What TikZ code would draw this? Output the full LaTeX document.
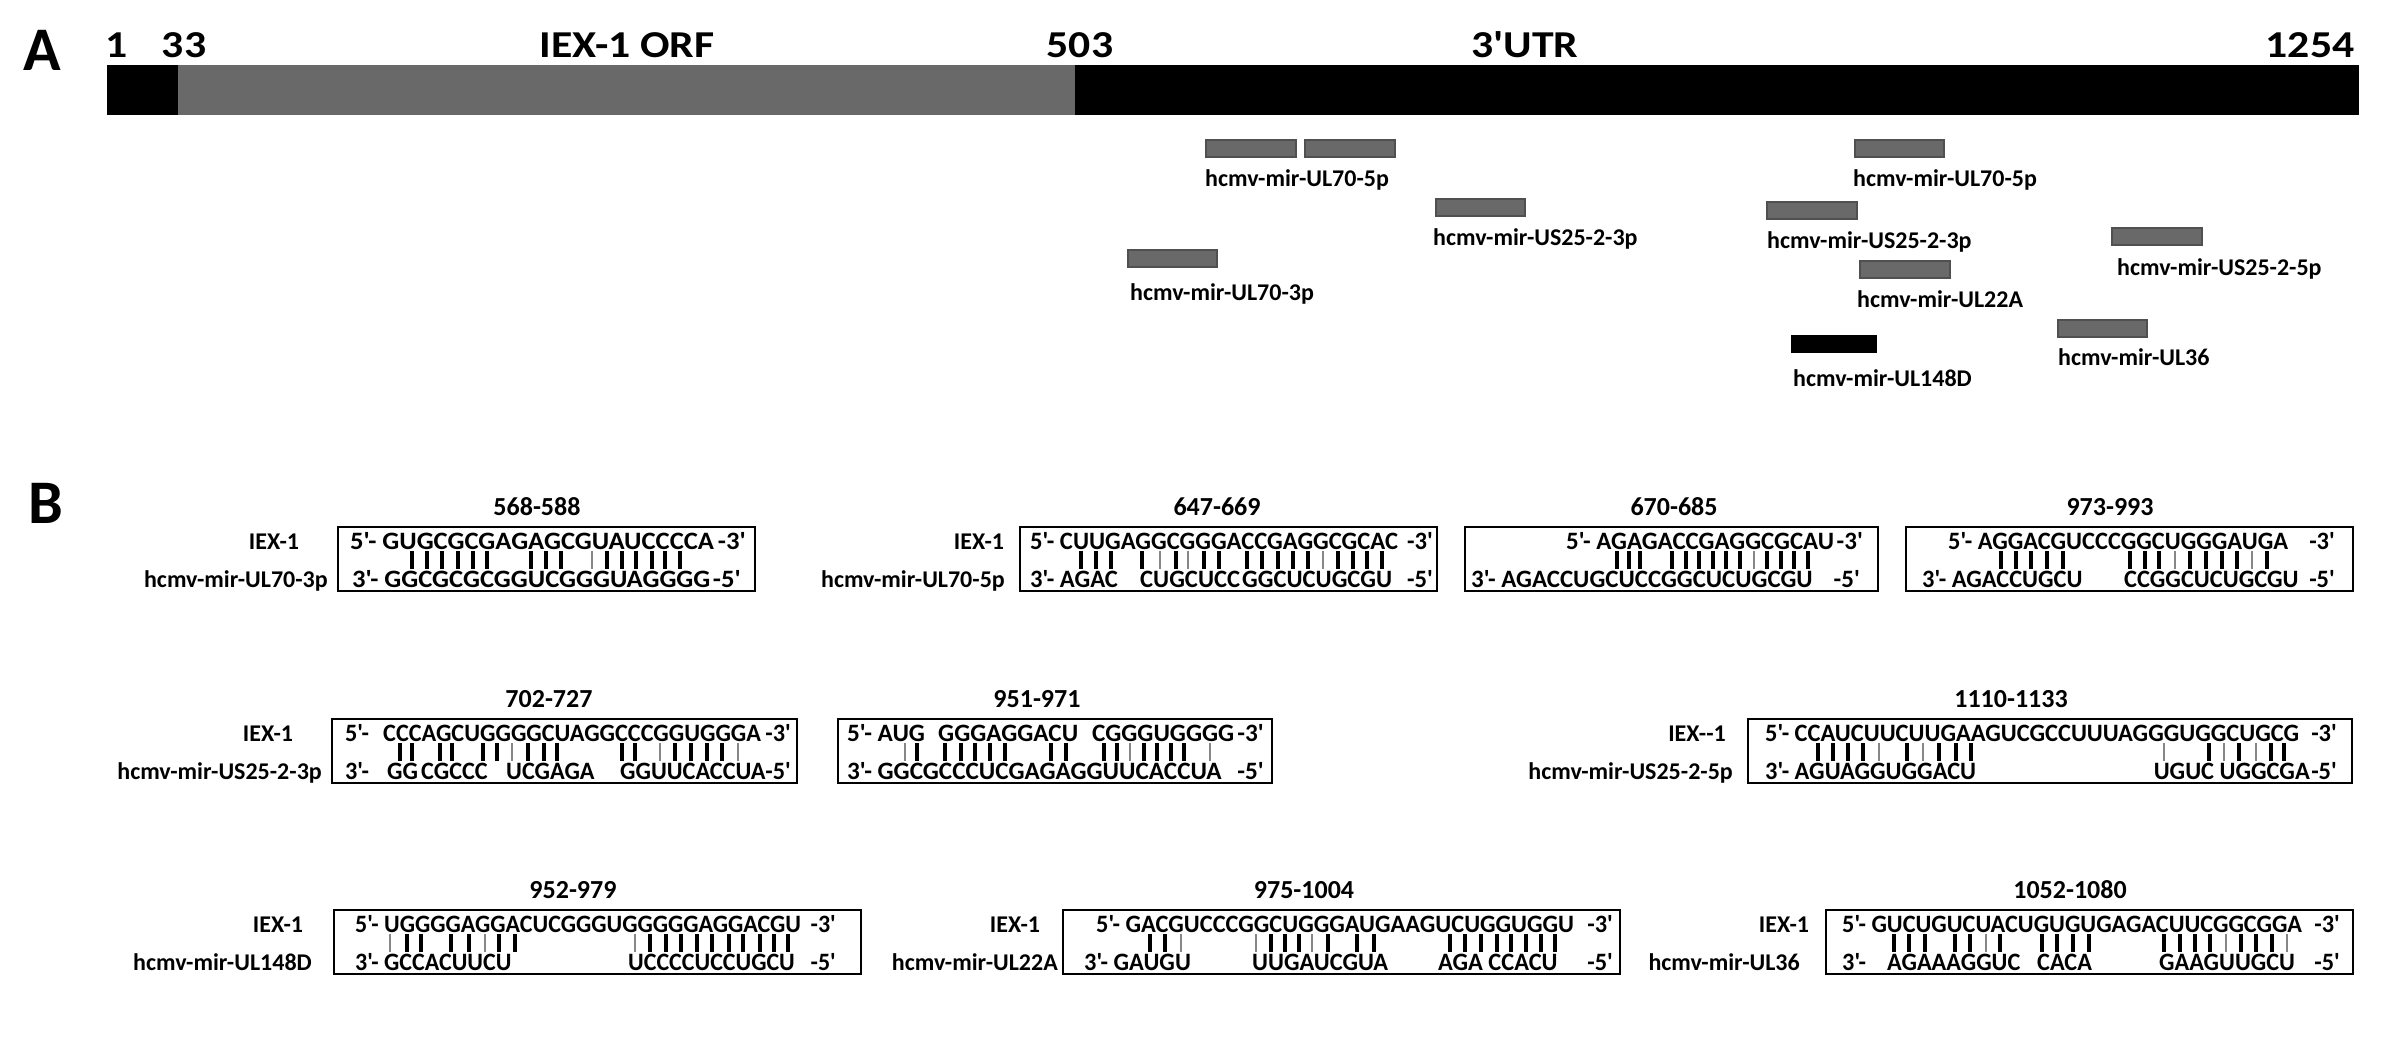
\documentclass[tikz,border=0pt]{standalone}
\usepackage{fontspec}
\usepackage{graphicx}
\setmainfont{Carlito}[Ligatures=TeXOff]
\definecolor{orfgray}{RGB}{105,105,105}
\definecolor{miredge}{RGB}{80,80,80}
\definecolor{wobgray}{RGB}{135,135,135}
\newcommand{\fBig}{\fontsize{62}{62}\selectfont\bfseries}
\newcommand{\fTop}{\fontsize{38}{38}\selectfont\bfseries}
\newcommand{\fLab}{\fontsize{24}{24}\selectfont\bfseries}
\newcommand{\fSeq}{\fontsize{25}{25}\selectfont\bfseries}
\newcommand{\fTtl}{\fontsize{26}{26}\selectfont\bfseries}
\newlength{\natw}
\newcommand{\setfit}[3]{\settowidth{\natw}{\fSeq #3}\pgfmathsetmacro{#1}{#2/\natw}}
\newcommand{\sx}[1]{\scalebox{\fitr}[1]{#1}}
\newcommand{\wide}[1]{\scalebox{1.15}[1]{#1}}
\newcommand{\pairbars}[4]{%
  \foreach \xx in {#3} \draw[pairline] (\xx,#1) -- (\xx,#2);
  \foreach \xx in {#4} \draw[wobline] (\xx,#1) -- (\xx,#2);}
\tikzset{
  lab/.style={font=\fLab, inner sep=0pt},
  toplab/.style={font=\fTop, inner sep=0pt, anchor=base},
  seq/.style={font=\fSeq, inner sep=0pt, anchor=base west},
  seqr/.style={font=\fSeq, inner sep=0pt, anchor=base east},
  ttl/.style={font=\fTtl, inner sep=0pt, anchor=base},
  frame/.style={draw=black, line width=2.4pt},
  pairline/.style={line width=3.2pt, draw=black},
  wobline/.style={line width=2.6pt, draw=wobgray},
  mirbox/.style={fill=orfgray, draw=miredge, line width=1.5pt},
}
\begin{document}
\setfit{\fa}{364}{5'- GUGCGCGAGAGCGUAUCCCCA}
\setfit{\fb}{368}{5'- CUUGAGGCGGGACCGAGGCGCAC}
\setfit{\fc}{268}{5'- AGAGACCGAGGCGCAU}
\setfit{\fd}{340}{5'- AGGACGUCCCGGCUGGGAUGA}
\setfit{\fe}{378}{CCCAGCUGGGGCUAGGCCCGGUGGGA}
\setfit{\ff}{142}{CGGGUGGGG}
\setfit{\fg}{534}{5'- CCAUCUUCUUGAAGUCGCCUUUAGGGUGGCUGCG}
\setfit{\fh}{446}{5'- UGGGGAGGACUCGGGUGGGGGAGGACGU}
\setfit{\fk}{478}{5'- GACGUCCCGGCUGGGAUGAAGUCUGGUGGU}
\setfit{\fm}{460}{5'- GUCUGUCUACUGUGUGAGACUUCGGCGGA}
\begin{tikzpicture}[x=1pt,y=-1pt]
\useasboundingbox[fill=white] (0,0) rectangle (2386,1044);

% ---------------- Panel A ----------------
\node[font=\fBig, inner sep=0pt, anchor=base] (A) at (42,70) {A};
\fill[black] (107,65) rectangle (178,115);
\fill[orfgray] (178,65) rectangle (1075,115);
\fill[black] (1075,65) rectangle (2359,115);
\node[toplab] (n1) at (117,57) {\wide{1}};
\node[toplab] (n33) at (184,57) {\wide{33}};
\node[toplab] (orf) at (627,57) {\wide{IEX-1 ORF}};
\node[toplab] (n503) at (1080,57) {\wide{503}};
\node[toplab] (utr) at (1525,57) {\wide{3'UTR}};
\node[toplab] (n1254) at (2310,57) {\wide{1254}};

\draw[mirbox] (1206,140) rectangle (1296,157);
\draw[mirbox] (1305,140) rectangle (1395,157);
\node[lab, anchor=base west] (a1) at (1205,186) {hcmv-mir-UL70-5p};
\draw[mirbox] (1436,199) rectangle (1525,216);
\node[lab, anchor=base west] (a2) at (1433,245) {hcmv-mir-US25-2-3p};
\draw[mirbox] (1128,250) rectangle (1217,267);
\node[lab, anchor=base west] (a3) at (1130,300) {hcmv-mir-UL70-3p};
\draw[mirbox] (1855,140) rectangle (1944,157);
\node[lab, anchor=base west] (a4) at (1853,186) {hcmv-mir-UL70-5p};
\draw[mirbox] (1767,202) rectangle (1857,219);
\node[lab, anchor=base west] (a5) at (1767,248) {hcmv-mir-US25-2-3p};
\draw[mirbox] (2112,228) rectangle (2202,245);
\node[lab, anchor=base west] (a6) at (2117,275) {hcmv-mir-US25-2-5p};
\draw[mirbox] (1860,261) rectangle (1950,278);
\node[lab, anchor=base west] (a7) at (1857,307) {hcmv-mir-UL22A};
\fill[black] (1791,335) rectangle (1877,353);
\node[lab, anchor=base west] (a8) at (1793,386) {hcmv-mir-UL148D};
\draw[mirbox] (2058,320) rectangle (2147,337);
\node[lab, anchor=base west] (a9) at (2058,365) {hcmv-mir-UL36};

% ---------------- Panel B ----------------
\node[font=\fBig, inner sep=0pt, anchor=base] (B) at (46,523) {B};

% Box 1 (T=527)
\let\fitr\fa
\draw[frame] (338,527) rectangle (755,591);
\node[ttl] (t1) at (537,515) {568-588};
\node[lab, anchor=base] (i1) at (274,549) {IEX-1};
\node[lab, anchor=base east] (m1) at (328,587) {hcmv-mir-UL70-3p};
\node[seq] (s1a) at (350,549) {\sx{5'- GUGCGCGAGAGCGUAUCCCCA}};
\node[seqr] (s1b) at (746,549) {\sx{-3'}};
\node[seq] (s1c) at (352,587) {\sx{3'- GGCGCGCGGUCGGGUAGGGG}};
\node[seqr] (s1d) at (741,587) {\sx{-5'}};
\pairbars{551}{569}{412,427,442,458,473,487,531,546,561,607,622,636,652,665,680}{592}

% Box 2
\let\fitr\fb
\draw[frame] (1020,527) rectangle (1437,591);
\node[ttl] (t2) at (1217,515) {647-669};
\node[lab, anchor=base] (i2) at (979,549) {IEX-1};
\node[lab, anchor=base east] (m2) at (1005,587) {hcmv-mir-UL70-5p};
\node[seq] (s2a) at (1030,549) {\sx{5'- CUUGAGGCGGGACCGAGGCGCAC}};
\node[seqr] (s2b) at (1433,549) {\sx{-3'}};
\node[seq] (s2c) at (1030,587) {\sx{3'- AGAC}};
\node[seq] (s2d) at (1140,587) {\sx{CUGCUCC}};
\node[seq] (s2e) at (1242,587) {\sx{GGCUCUGCGU}};
\node[seqr] (s2f) at (1433,587) {\sx{-5'}};
\pairbars{551}{569}{1081,1096,1111,1142,1176,1204,1219,1247,1262,1278,1293,1308,1338,1353,1367,1382}{1160,1188,1323}

% Box 3
\let\fitr\fc
\draw[frame] (1465,527) rectangle (1878,591);
\node[ttl] (t3) at (1674,515) {670-685};
\node[seq] (s3a) at (1566,549) {\sx{5'- AGAGACCGAGGCGCAU}};
\node[seqr] (s3b) at (1863,549) {\sx{-3'}};
\node[seq] (s3c) at (1471,587) {\sx{3'- AGACCUGCUCCGGCUCUGCGU}};
\node[seqr] (s3d) at (1860,587) {\sx{-5'}};
\pairbars{551}{569}{1617,1629,1640,1672,1686,1699,1713,1726,1740,1767,1781,1794,1808}{1754}

% Box 4
\let\fitr\fd
\draw[frame] (1906,527) rectangle (2353,591);
\node[ttl] (t4) at (2110,515) {973-993};
\node[seq] (s4a) at (1948,549) {\sx{5'- AGGACGUCCCGGCUGGGAUGA}};
\node[seqr] (s4b) at (2335,549) {\sx{-3'}};
\node[seq] (s4c) at (1922,587) {\sx{3'- AGACCUGCU}};
\node[seq] (s4d) at (2124,587) {\sx{CCGGCUCUGCGU}};
\node[seqr] (s4e) at (2335,587) {\sx{-5'}};
\pairbars{551}{569}{2001,2016,2031,2047,2063,2130,2145,2159,2190,2206,2222,2237,2267}{2175,2252}

% Box 5 (T=719)
\let\fitr\fe
\draw[frame] (332,719) rectangle (797,783);
\node[ttl] (t5) at (549,707) {702-727};
\node[lab, anchor=base] (i5) at (268,741) {IEX-1};
\node[lab, anchor=base east] (m5) at (322,779) {hcmv-mir-US25-2-3p};
\node[seq] (s5a) at (345,741) {\sx{5'-}};
\node[seq] (s5b) at (383,741) {\sx{CCCAGCUGGGGCUAGGCCCGGUGGGA}};
\node[seqr] (s5c) at (791,741) {\sx{-3'}};
\node[seq] (s5d) at (345,779) {\sx{3'-}};
\node[seq] (s5e) at (387,779) {\sx{GG}};
\node[seq] (s5f) at (421,779) {\sx{CGCCC}};
\node[seq] (s5g) at (506,779) {\sx{UCGAGA}};
\node[seq] (s5h) at (620,779) {\sx{GGUUCACCUA}};
\node[seqr] (s5i) at (791,779) {\sx{-5'}};
\pairbars{743}{761}{400,412,440,452,483,497,528,544,557,622,635,675,691,707,722}{512,660,738}

% Box 6
\let\fitr\ff
\draw[frame] (838,719) rectangle (1272,783);
\node[ttl] (t6) at (1037,707) {951-971};
\node[seq] (s6a) at (847,741) {\sx{5'- AUG}};
\node[seq] (s6b) at (938,741) {\sx{GGGAGGACU}};
\node[seq] (s6c) at (1092,741) {\sx{CGGGUGGGG}};
\node[seqr] (s6d) at (1264,741) {\sx{-3'}};
\node[seq] (s6e) at (847,779) {\sx{3'- GGCGCCCUCGAGAGGUUCACCUA}};
\node[seqr] (s6f) at (1264,779) {\sx{-5'}};
\pairbars{743}{761}{917,945,961,975,990,1005,1051,1066,1104,1117,1144,1157,1171,1184}{905,1130,1210}

% Box 7
\let\fitr\fg
\draw[frame] (1748,719) rectangle (2352,783);
\node[ttl] (t7) at (2011,707) {1110-1133};
\node[lab, anchor=base] (i7) at (1697,741) {IEX-{}-1};
\node[lab, anchor=base east] (m7) at (1733,779) {hcmv-mir-US25-2-5p};
\node[seq] (s7a) at (1765,741) {\sx{5'- CCAUCUUCUUGAAGUCGCCUUUAGGGUGGCUGCG}};
\node[seqr] (s7b) at (2337,741) {\sx{-3'}};
\node[seq] (s7c) at (1765,779) {\sx{3'- AGUAGGUGGACU}};
\node[seqr] (s7d) at (2310,779) {\sx{UGUC UGGCGA}};
\node[seqr] (s7f) at (2337,779) {\sx{-5'}};
\pairbars{743}{761}{1818,1833,1848,1863,1907,1939,1956,1971,2209,2239,2271,2284}{1879,1923,2164,2224,2256}

% Box 8 (T=910)
\let\fitr\fh
\draw[frame] (334,910) rectangle (861,974);
\node[ttl] (t8) at (573,898) {952-979};
\node[lab, anchor=base] (i8) at (278,932) {IEX-1};
\node[lab, anchor=base east] (m8) at (312,970) {hcmv-mir-UL148D};
\node[seq] (s8a) at (355,932) {\sx{5'- UGGGGAGGACUCGGGUGGGGGAGGACGU}};
\node[seqr] (s8b) at (836,932) {\sx{-3'}};
\node[seq] (s8c) at (355,970) {\sx{3'- GCCACUUCU}};
\node[seq] (s8d) at (628,970) {\sx{UCCCCUCCUGCU}};
\node[seqr] (s8e) at (836,970) {\sx{-5'}};
\pairbars{934}{952}{407,421,451,469,499,515,650,666,681,697,712,729,743,760,774,788}{390,485,635}

% Box 9
\let\fitr\fk
\draw[frame] (1063,910) rectangle (1620,974);
\node[ttl] (t9) at (1304,898) {975-1004};
\node[lab, anchor=base] (i9) at (1015,932) {IEX-1};
\node[lab, anchor=base east] (m9) at (1058,970) {hcmv-mir-UL22A};
\node[seq] (s9a) at (1096,932) {\sx{5'- GACGUCCCGGCUGGGAUGAAGUCUGGUGGU}};
\node[seqr] (s9b) at (1613,932) {\sx{-3'}};
\node[seq] (s9c) at (1084,970) {\sx{3'- GAUGU}};
\node[seq] (s9d) at (1252,970) {\sx{UUGAUCGUA}};
\node[seq] (s9e) at (1438,970) {\sx{AGA CCACU}};
\node[seqr] (s9f) at (1613,970) {\sx{-5'}};
\pairbars{934}{952}{1150,1165,1271,1285,1299,1328,1357,1374,1450,1465,1481,1497,1511,1526,1541,1555}{1181,1256,1312}

% Box 10
\let\fitr\fm
\draw[frame] (1826,910) rectangle (2353,974);
\node[ttl] (t10) at (2070,898) {1052-1080};
\node[lab, anchor=base] (i10) at (1784,932) {IEX-1};
\node[lab, anchor=base east] (m10) at (1800,970) {hcmv-mir-UL36};
\node[seq] (s10a) at (1842,932) {\sx{5'- GUCUGUCUACUGUGUGAGACUUCGGCGGA}};
\node[seqr] (s10b) at (2340,932) {\sx{-3'}};
\node[seq] (s10c) at (1842,970) {\sx{3'-}};
\node[seq] (s10d) at (1887,970) {\sx{AGAAAGGUC}};
\node[seq] (s10e) at (2037,970) {\sx{CACA}};
\node[seq] (s10f) at (2159,970) {\sx{GAAGUUGCU}};
\node[seqr] (s10g) at (2340,970) {\sx{-5'}};
\pairbars{934}{952}{1894,1909,1925,1955,1970,2000,2042,2057,2073,2089,2164,2180,2195,2210,2241,2256,2272}{1986,2226,2287}
\end{tikzpicture}
\end{document}
